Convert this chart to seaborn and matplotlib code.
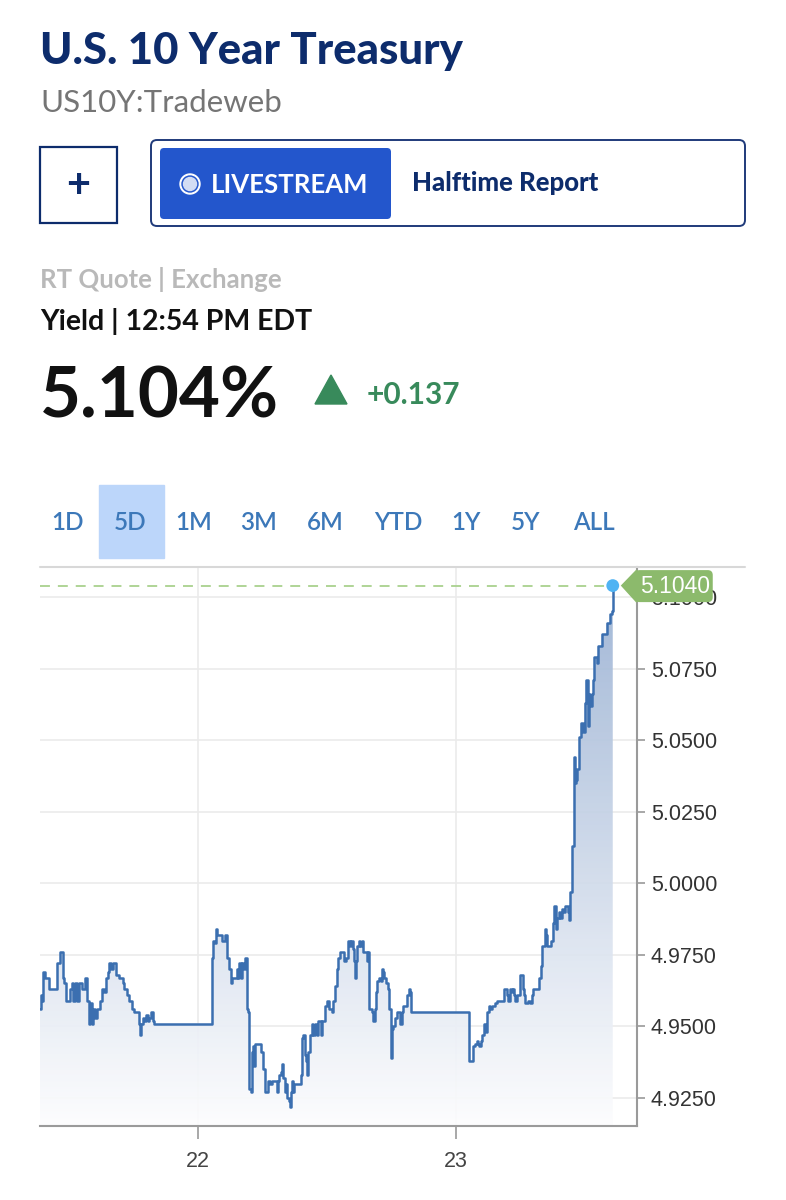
import numpy as np
import pandas as pd
import seaborn as sns
import matplotlib.pyplot as plt
from matplotlib.colors import LinearSegmentedColormap
from matplotlib.patches import Rectangle, FancyBboxPatch, Circle, Polygon
from matplotlib.lines import Line2D
from matplotlib.transforms import Affine2D

# ---- data, time in fractional day-of-month ----
times_21 = [
    21.388, 21.391, 21.396, 21.401, 21.409, 21.418, 21.422, 21.437, 21.443, 21.453,
    21.461, 21.466, 21.472, 21.476, 21.482, 21.489, 21.502, 21.505, 21.512, 21.517,
    21.525, 21.530, 21.538, 21.551, 21.557, 21.564, 21.569, 21.577, 21.579, 21.583,
    21.588, 21.595, 21.602, 21.608, 21.621, 21.628, 21.637, 21.644, 21.650, 21.657,
    21.663, 21.670, 21.676, 21.683, 21.695, 21.709, 21.715, 21.724, 21.734, 21.745,
    21.754, 21.763, 21.771, 21.774, 21.779, 21.786, 21.792, 21.799, 21.805, 21.812,
    21.818, 21.825, 21.831, 22.054,
]
yields_21 = [
    4.956, 4.961, 4.959, 4.969, 4.967, 4.967, 4.963, 4.963, 4.963, 4.972,
    4.972, 4.976, 4.976, 4.967, 4.965, 4.959, 4.959, 4.963, 4.965, 4.959,
    4.965, 4.959, 4.965, 4.963, 4.963, 4.967, 4.959, 4.959, 4.951, 4.958,
    4.951, 4.956, 4.953, 4.956, 4.959, 4.963, 4.962, 4.967, 4.969, 4.972,
    4.970, 4.972, 4.972, 4.968, 4.967, 4.965, 4.963, 4.961, 4.959, 4.956,
    4.955, 4.955, 4.951, 4.947, 4.951, 4.953, 4.952, 4.954, 4.952, 4.953,
    4.955, 4.952, 4.951, 4.951,
]
times_22 = [
    22.055, 22.060, 22.066, 22.070, 22.075, 22.086, 22.092, 22.099, 22.105, 22.112,
    22.114, 22.119, 22.124, 22.127, 22.132, 22.144, 22.150, 22.157, 22.161, 22.166,
    22.172, 22.179, 22.183, 22.189, 22.192, 22.195, 22.199, 22.205, 22.209, 22.212,
    22.217, 22.221, 22.241, 22.245, 22.250, 22.253, 22.260, 22.267, 22.273, 22.279,
    22.286, 22.299, 22.305, 22.309, 22.316, 22.321, 22.326, 22.331, 22.338, 22.341,
    22.346, 22.352, 22.357, 22.361, 22.365, 22.370, 22.374, 22.385, 22.393, 22.398,
    22.403, 22.409, 22.414, 22.419, 22.424, 22.428, 22.434, 22.441, 22.447, 22.454,
    22.460, 22.467, 22.471, 22.476, 22.481, 22.489, 22.494, 22.499, 22.507, 22.509,
    22.519, 22.525, 22.531, 22.538, 22.544, 22.551, 22.561, 22.566, 22.574, 22.581,
    22.583, 22.590, 22.593, 22.600, 22.605, 22.608, 22.613, 22.618, 22.623, 22.628,
    22.635, 22.639, 22.652, 22.654, 22.658, 22.663, 22.664, 22.674, 22.680, 22.686,
    22.690, 22.695, 22.703, 22.709, 22.712, 22.716, 22.721, 22.729, 22.738, 22.742,
    22.747, 22.750, 22.752, 22.757, 22.764, 22.771, 22.777, 22.783, 22.790, 22.796,
    22.807, 22.812, 22.817, 22.822, 22.826, 23.050,
]
yields_22 = [
    4.974, 4.980, 4.979, 4.984, 4.982, 4.982, 4.980, 4.980, 4.982, 4.980,
    4.974, 4.970, 4.970, 4.965, 4.967, 4.967, 4.970, 4.967, 4.972, 4.967,
    4.972, 4.970, 4.974, 4.973, 4.956, 4.955, 4.928, 4.927, 4.941, 4.943,
    4.936, 4.944, 4.944, 4.941, 4.941, 4.935, 4.927, 4.927, 4.931, 4.930,
    4.931, 4.931, 4.927, 4.931, 4.933, 4.934, 4.937, 4.932, 4.927, 4.930,
    4.925, 4.924, 4.922, 4.927, 4.931, 4.927, 4.930, 4.930, 4.930, 4.933,
    4.946, 4.947, 4.940, 4.938, 4.933, 4.941, 4.947, 4.951, 4.947, 4.951,
    4.947, 4.952, 4.952, 4.947, 4.952, 4.952, 4.957, 4.959, 4.959, 4.956,
    4.955, 4.959, 4.964, 4.970, 4.974, 4.976, 4.976, 4.973, 4.974, 4.978,
    4.980, 4.978, 4.980, 4.977, 4.973, 4.967, 4.973, 4.978, 4.980, 4.978,
    4.980, 4.976, 4.976, 4.973, 4.976, 4.976, 4.956, 4.955, 4.952, 4.956,
    4.962, 4.966, 4.967, 4.966, 4.970, 4.969, 4.967, 4.965, 4.963, 4.956,
    4.949, 4.939, 4.949, 4.950, 4.953, 4.955, 4.955, 4.951, 4.955, 4.957,
    4.957, 4.961, 4.963, 4.962, 4.955, 4.955,
]
times_23 = [
    23.052, 23.061, 23.065, 23.074, 23.081, 23.087, 23.091, 23.096, 23.101, 23.106,
    23.109, 23.114, 23.117, 23.122, 23.127, 23.132, 23.139, 23.152, 23.158, 23.181,
    23.186, 23.192, 23.197, 23.203, 23.210, 23.216, 23.220, 23.225, 23.229, 23.236,
    23.242, 23.249, 23.255, 23.259, 23.264, 23.269, 23.274, 23.281, 23.287, 23.294,
    23.300, 23.319, 23.323, 23.329, 23.333, 23.339, 23.345, 23.349, 23.354, 23.362,
    23.368, 23.375, 23.380, 23.388, 23.393, 23.399, 23.404, 23.410, 23.416, 23.423,
    23.430, 23.435, 23.437, 23.442, 23.449, 23.451, 23.455, 23.458, 23.462, 23.466,
    23.468, 23.474, 23.478, 23.484, 23.490, 23.494, 23.499, 23.503, 23.509, 23.513,
    23.517, 23.520, 23.526, 23.533, 23.536, 23.543, 23.546, 23.552, 23.561, 23.565,
    23.578, 23.584, 23.591, 23.597, 23.604, 23.608,
]
yields_23 = [
    4.938, 4.938, 4.943, 4.944, 4.945, 4.944, 4.943, 4.945, 4.947, 4.947,
    4.951, 4.951, 4.948, 4.955, 4.957, 4.956, 4.957, 4.958, 4.959, 4.959,
    4.963, 4.963, 4.961, 4.959, 4.963, 4.962, 4.963, 4.961, 4.959, 4.961,
    4.961, 4.968, 4.968, 4.963, 4.961, 4.958, 4.958, 4.959, 4.958, 4.961,
    4.963, 4.963, 4.967, 4.971, 4.978, 4.978, 4.984, 4.982, 4.978, 4.978,
    4.980, 4.986, 4.992, 4.984, 4.988, 4.990, 4.988, 4.991, 4.990, 4.992,
    4.992, 4.990, 4.987, 4.997, 4.997, 5.013, 5.013, 5.044, 5.035, 5.036,
    5.040, 5.040, 5.051, 5.056, 5.056, 5.053, 5.063, 5.071, 5.071, 5.055,
    5.066, 5.062, 5.066, 5.071, 5.079, 5.079, 5.077, 5.083, 5.083, 5.087,
    5.087, 5.091, 5.091, 5.094, 5.095, 5.104,
]

last_yield = 5.104
change = "+0.137"
y_ticks = [4.925, 4.950, 4.975, 5.000, 5.025, 5.050, 5.075, 5.100]
x_ticks = [22, 23]
x_labels = ["22", "23"]
ranges = ["1D", "5D", "1M", "3M", "6M", "YTD", "1Y", "5Y", "ALL"]
range_x = [68, 130, 194, 259, 325, 398, 466, 526, 594]

df = pd.DataFrame({
    "time": times_21 + times_22 + times_23,
    "yield": yields_21 + yields_22 + yields_23,
})

sns.set_theme(style="white")
plt.rcParams['font.family'] = ['Lato', 'DejaVu Sans']

NAVY = "#0d2c6c"
LINE = "#3b6fb0"
GREEN = "#388a5b"

fig = plt.figure(figsize=(7.86, 12), dpi=100)
# pixel coords, origin top-left
P = Affine2D().scale(0.01, -0.01).translate(0, 12) + fig.dpi_scale_trans

# ---- header ----
fig.text(40, 64, "U.S. 10 Year Treasury", transform=P, fontsize=31.5,
         fontweight="black", color=NAVY)
fig.text(40, 112, "US10Y:Tradeweb", transform=P, fontsize=22.5, color="#757575")

fig.add_artist(Rectangle((40, 147), 77, 76, transform=P, fill=False,
                         edgecolor=NAVY, lw=1.6))
fig.text(78, 186, "+", transform=P, fontsize=30, fontweight="bold", color=NAVY,
         ha="center", va="center")
fig.add_artist(FancyBboxPatch((151, 140), 594, 86, transform=P,
                              boxstyle="round,pad=0,rounding_size=6",
                              fill=False, edgecolor="#1f3a7a", lw=1.4))
fig.add_artist(FancyBboxPatch((160, 148), 231, 71, transform=P,
                              boxstyle="round,pad=0,rounding_size=4",
                              facecolor="#2356cc", edgecolor="none"))
fig.add_artist(Circle((190, 184), 10, transform=P, color="white"))
fig.add_artist(Circle((190, 184), 8, transform=P, color="#2356cc"))
fig.add_artist(Circle((190, 184), 6.5, transform=P, color="#d3ddf4"))
fig.text(211, 193, "LIVESTREAM", transform=P, fontsize=18.5, fontweight="bold",
         color="white")
fig.text(412, 191, "Halftime Report", transform=P, fontsize=18.5,
         fontweight="black", color=NAVY)

fig.text(40, 288, "RT Quote | Exchange", transform=P, fontsize=18.5,
         fontweight="bold", color="#b9b9b9")
fig.text(40, 330, "Yield | 12:54 PM EDT", transform=P, fontsize=20.5,
         fontweight="bold", color="#111111")
fig.text(40, 418, f"{last_yield:.3f}%", transform=P, fontsize=51,
         fontweight="bold", color="#111111")
fig.add_artist(Polygon([(315, 404), (331, 375), (347, 404)], closed=True,
                       transform=P, color=GREEN))
fig.text(367, 404, change, transform=P, fontsize=21.5, fontweight="bold",
         color=GREEN)

# range selector
fig.add_artist(Rectangle((99, 485), 65, 73, transform=P, color="#bcd6fa"))
for lab, cx in zip(ranges, range_x):
    fig.text(cx, 530, lab, transform=P, fontsize=17.5, fontweight="semibold",
             color="#3c78b9", ha="center")

# ---- chart ----
W, H = 786, 1200
left, right, top, bottom = 40, 637, 567, 1126
ax = fig.add_axes([left / W, 1 - bottom / H, (right - left) / W,
                   (bottom - top) / H])

xmin, xmax = 21.388, 23.702
ymin, ymax = 4.9152, 5.1105

sns.lineplot(data=df, x="time", y="yield", ax=ax, estimator=None, sort=False,
             color=LINE, lw=1.8, drawstyle="steps-post", zorder=4)

poly = ax.fill_between(df["time"], df["yield"], ymin, step="post",
                       facecolor="none", edgecolor="none")
cmap = LinearSegmentedColormap.from_list("fade", ["#fdfdfe", "#97afd2"])
grad = np.linspace(0, 1, 256).reshape(-1, 1)
im = ax.imshow(grad, extent=[df["time"].iloc[0], df["time"].iloc[-1], ymin, ymax],
               origin="lower", aspect="auto", cmap=cmap, zorder=2, alpha=0.92)
im.set_clip_path(poly.get_paths()[0], transform=ax.transData)

t_last = df["time"].iloc[-1]
ax.plot([xmin, t_last], [last_yield, last_yield], color="#a9d18e", lw=1.3,
        ls=(0, (5.5, 4.4)), zorder=3)
ax.scatter([t_last], [last_yield], s=85, color="#4fb3f3", zorder=6,
           clip_on=False, edgecolor="none")

ax.set_xlim(xmin, xmax)
ax.set_ylim(ymin, ymax)
ax.set_xlabel("")
ax.set_ylabel("")

ax.set_axisbelow(True)
ax.grid(True, color="#ebebeb", lw=1.2)
ax.yaxis.tick_right()
ax.set_yticks(y_ticks, labels=[f"{v:.4f}" for v in y_ticks],
              fontsize=15.5, fontfamily="Liberation Sans", color="#333333")
ax.set_xticks(x_ticks, labels=x_labels, fontsize=15.5,
              fontfamily="Liberation Sans", color="#444444")
ax.tick_params(axis="y", right=True, left=False, direction="out", length=6,
               width=1.2, color="#9a9a9a", pad=4)
ax.tick_params(axis="x", bottom=True, direction="out", length=9, width=1.2,
               color="#9a9a9a", pad=9)

for s in ["top", "left"]:
    ax.spines[s].set_visible(False)
for s in ["right", "bottom"]:
    ax.spines[s].set_color("#9a9a9a")
    ax.spines[s].set_linewidth(1.5)

fig.add_artist(Line2D([40, 745], [567, 567], transform=P, color="#d8d8d8", lw=1.5))

# value tag at the last point (sits over the 5.1000 label as in the app)
ex, ey = P.inverted().transform(ax.transData.transform((t_last, last_yield)))
TAG = "#8cba6c"
fig.add_artist(Polygon([(ex + 9, ey), (ex + 24, ey - 15.5), (ex + 24, ey + 16.5)],
                       closed=True, transform=P, color=TAG, zorder=5))
fig.add_artist(FancyBboxPatch((ex + 22, ey - 15.5), 78, 32, transform=P,
                              boxstyle="round,pad=0,rounding_size=5",
                              facecolor=TAG, edgecolor="none", zorder=5))
fig.text(ex + 62, ey + 1, f"{last_yield:.4f}", transform=P, fontsize=16.5,
         fontfamily="Liberation Sans", color="white", ha="center", va="center",
         zorder=6)

fig.savefig("out.png", dpi=100)
